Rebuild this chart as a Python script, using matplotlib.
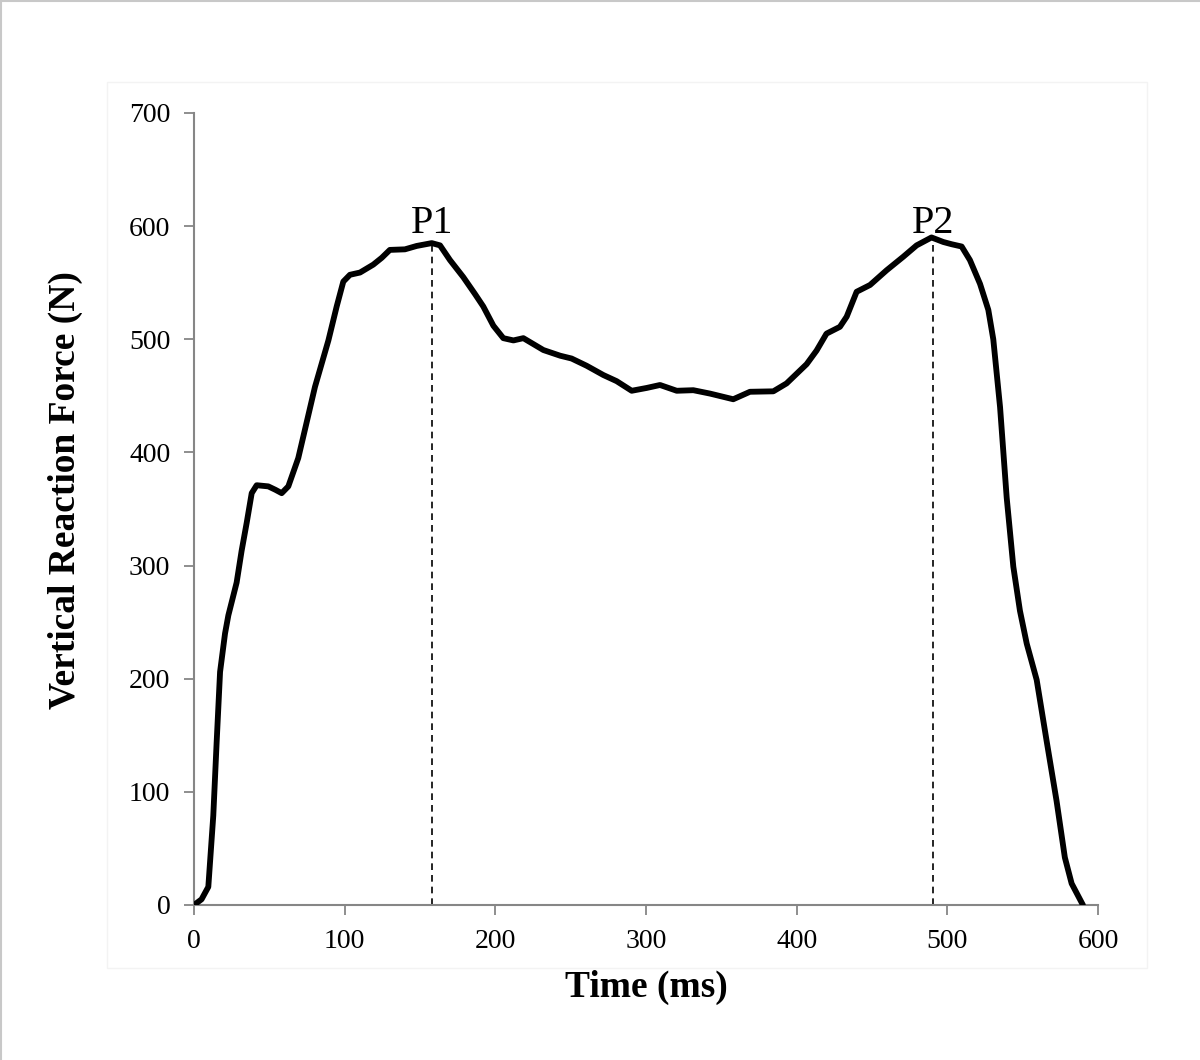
import matplotlib
matplotlib.use("Agg")
import matplotlib.pyplot as plt
from matplotlib.lines import Line2D
from matplotlib.patches import Rectangle

# vertical ground reaction force trace
time_ms = [0, 5, 9.5, 12.8, 15, 17.3, 20.6, 22.8, 28.3, 31.6, 35, 38.3, 41.6,
           49.3, 54, 58.2, 62.6, 69.2, 75.9, 80.3, 89.2, 94.7, 99.1, 103.5,
           110.2, 119, 124.6, 130, 140, 147.8, 157.8, 163.3, 169.9, 178.7,
           186.5, 192, 198.7, 205.3, 212, 218.6, 231.9, 243, 250.6, 260.6,
           271.7, 280.5, 290.5, 300.5, 309.3, 320.4, 331.4, 342.5, 357.9,
           369, 384.5, 393.3, 406.6, 413.2, 419.8, 428.7, 433.2, 439.8, 448.7,
           459.7, 470.8, 479.6, 489.5, 497.3, 502.9, 509.5, 515, 521.7, 527.2,
           530.5, 535, 539.4, 543.8, 548.2, 552.7, 559.3, 565.9, 572.5, 578,
           582.5, 590]
force_n = [0, 5, 16, 79, 143, 206, 240, 256, 285, 313, 338, 364, 371,
           370, 367, 364, 370, 395, 433, 458, 499, 529, 551, 557,
           559, 566, 572, 579, 579.5, 582.5, 585, 583, 570, 555,
           540, 529, 512, 501, 499, 501, 490.5, 485.5, 483, 476.6,
           468.4, 463, 454.5, 457, 459.6, 454.5, 455, 452, 447,
           453.6, 454, 461, 478, 490, 505, 511, 520, 542, 548,
           561, 573, 583, 590, 586, 584, 582, 570, 549, 526,
           500, 440, 360, 299, 260, 231, 199, 145, 92, 42,
           19, 0]

peak_names = ["P1", "P2"]
peak_time = [157.8, 490.5]
peak_force = [585, 590]

x_ticks = [0, 100, 200, 300, 400, 500, 600]
y_ticks = [0, 100, 200, 300, 400, 500, 600, 700]

plt.rcParams["font.family"] = ["Liberation Serif", "DejaVu Serif"]
axis_grey = "#868686"

fig = plt.figure(figsize=(12, 10.6), dpi=100)
ax = fig.add_axes([194 / 1200, 1 - 905 / 1060, 904 / 1200, 792 / 1060])

# page border and faint chart-area frame
fig.add_artist(Line2D([0.001, 0.001], [0, 1], transform=fig.transFigure,
                      color="#c8c8c8", lw=1.5))
fig.add_artist(Line2D([0, 1], [0.999, 0.999], transform=fig.transFigure,
                      color="#c8c8c8", lw=1.5))
fig.add_artist(Rectangle((107 / 1200, 1 - 968 / 1060), 1040 / 1200, 886 / 1060,
                         transform=fig.transFigure, fill=False,
                         edgecolor="#f3f3f3", lw=1))

ax.plot(time_ms, force_n, color="black", lw=4.2, solid_joinstyle="round",
        solid_capstyle="round", zorder=3)

# dashed markers at the two peaks, labels share one baseline just above them
label_y = max(peak_force) + 4
for name, t, f in zip(peak_names, peak_time, peak_force):
    ax.plot([t, t], [0, f], color="black", lw=1.2, ls=(0, (4, 3)), zorder=2)
    ax.text(t, label_y, name, ha="center", va="baseline", fontsize=29)

ax.set_xlim(0, 600)
ax.set_ylim(0, 700)
ax.set_xticks(x_ticks)
ax.set_yticks(y_ticks)
ax.tick_params(axis="both", direction="out", length=7, width=1.3,
               color=axis_grey, labelsize=20, pad=10)

for side in ["top", "right"]:
    ax.spines[side].set_visible(False)
for side in ["left", "bottom"]:
    ax.spines[side].set_color(axis_grey)
    ax.spines[side].set_linewidth(1.5)

fig.text(646 / 1200, 1 - 987 / 1060, "Time (ms)", ha="center", va="center",
         fontsize=27, fontweight="bold")
fig.text(65 / 1200, 1 - 490 / 1060, "Vertical Reaction Force (N)", ha="center",
         va="center", rotation=90, fontsize=27, fontweight="bold")

fig.savefig("out.png", dpi=100)
